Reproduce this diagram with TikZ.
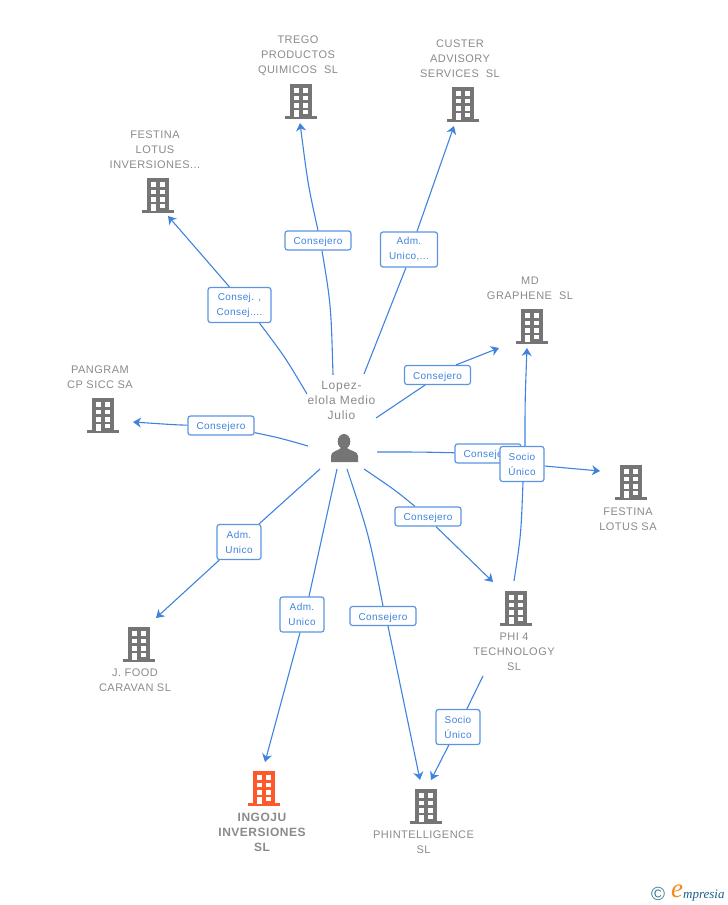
\documentclass[tikz,border=0pt]{standalone}
\usepackage{fontspec}
\setmainfont{Liberation Sans}
\newfontfamily\logofont{Liberation Serif}
\newfontfamily\namefont[LetterSpace=4.3]{Liberation Sans}
\newfontfamily\personfont[LetterSpace=6]{Liberation Sans}
\newfontfamily\tagfont[LetterSpace=4]{Liberation Sans}
\usetikzlibrary{arrows.meta}
\definecolor{linkblue}{HTML}{3F83DE}
\definecolor{tagblue}{HTML}{5B95E2}
\definecolor{icongray}{HTML}{757575}
\definecolor{namegray}{HTML}{8A8A8A}
\definecolor{iconred}{HTML}{FC5A2A}
\definecolor{logoteal}{HTML}{3E7C94}
\definecolor{logoblue}{HTML}{1F5F8B}
\definecolor{logoorange}{HTML}{F08A1D}
\tikzset{
	flow/.style={draw=linkblue, line width=1.1pt},
	flowin/.style={flow, -{Stealth[length=8pt, width=10pt, inset=2.5pt]}},
	tag/.style={draw=tagblue, line width=1.2pt, rounded corners=2.5pt, fill=white, text=linkblue, inner sep=0pt, align=center, minimum width=66pt, minimum height=19pt, font=\tagfont\fontsize{10}{15}\selectfont, execute at begin node={\rule{0pt}{10.5pt}}},
	tagtall/.style={tag, minimum width=44pt, minimum height=35pt},
	firm/.style={text=namegray, align=center, inner sep=0pt, font=\namefont\fontsize{11}{15}\selectfont},
	building/.pic={
		\fill [pic actions] (-10.5,-17) rectangle (12,16);
		\fill [pic actions] (-15.5,15) rectangle (16.5,17.5);
		\fill [white] (-6.5,-13) rectangle (-1.5,-8.5);
		\fill [white] (3,-13) rectangle (8,-8.5);
		\fill [white] (-6.5,-5.5) rectangle (-1.5,-1);
		\fill [white] (3,-5.5) rectangle (8,-1);
		\fill [white] (-6.5,2) rectangle (-1.5,6.5);
		\fill [white] (3,2) rectangle (8,6.5);
		\fill [white] (-6.5,9) rectangle (-1.5,16);
		\fill [white] (3,8.5) rectangle (8,13);
	},
}
\begin{document}
\begin{tikzpicture}[x=1pt, y=-1pt]
	\useasboundingbox (0,0) rectangle (728,905);
	% free ends
	\coordinate (sFestinaInv) at (307,394);
	\coordinate (eFestinaInv) at (168,216);
	\coordinate (sTrego) at (333,375);
	\coordinate (eTrego) at (300,123);
	\coordinate (sCuster) at (364,374);
	\coordinate (eCuster) at (454,126);
	\coordinate (sMd) at (376,418);
	\coordinate (eMd) at (499,348);
	\coordinate (sPangram) at (308,446);
	\coordinate (ePangram) at (133,422);
	\coordinate (sFestinaSa) at (377,452);
	\coordinate (eFestinaSa) at (600,471);
	\coordinate (sPhiMd) at (514,581);
	\coordinate (ePhiMd) at (527,348);
	\coordinate (sFood) at (320,469);
	\coordinate (eFood) at (156,618);
	\coordinate (sIngoju) at (337,469);
	\coordinate (eIngoju) at (265,762);
	\coordinate (sPhint) at (347,469);
	\coordinate (ePhint) at (420,780);
	\coordinate (sPhi) at (364,469);
	\coordinate (ePhi) at (493,582);
	\coordinate (sPhiPhint) at (483,676);
	\coordinate (ePhiPhint) at (431,780);

	% labels on the links
	\node [tag, minimum width=63pt, minimum height=35pt, name=tFestinaInv] at (239.5,305) {Consej. ,\\Consej....};
	\node [tag, name=tTrego] at (318,240.5) {Consejero};
	\node [tag, minimum width=57pt, minimum height=35pt, name=tCuster] at (409,249.5) {Adm.\\Unico,...};
	\node [tag, name=tMd] at (437.5,375) {Consejero};
	\node [tag, name=tPangram] at (221,425.5) {Consejero};
	\node [tag, name=tFestinaSa] at (488,453.5) {Consejero};
	\node [tag, name=tPhi] at (428,516.5) {Consejero};
	\node [tag, name=tPhint] at (383,616) {Consejero};
	\node [tagtall, name=tFood] at (239,542) {Adm.\\Unico};
	\node [tagtall, name=tIngoju] at (302,614.5) {Adm.\\Unico};
	\node [tagtall, name=tPhiMd] at (522,464) {Socio\\Único};
	\node [tagtall, name=tPhiPhint] at (458,727) {Socio\\Único};

	% links
	\draw [flow] (sFestinaInv) .. controls (285,357) .. ([xshift=20pt]tFestinaInv.south);
	\draw [flowin] ([xshift=-10pt]tFestinaInv.north) -- (eFestinaInv);
	\draw [flow] (sTrego) .. controls (331,305) .. ([xshift=4pt]tTrego.south);
	\draw [flowin] (tTrego.north) .. controls (308,185) .. (eTrego);
	\draw [flow] (sCuster) -- ([xshift=-3pt]tCuster.south);
	\draw [flowin] ([xshift=8pt]tCuster.north) -- (eCuster);
	\draw [flow] (sMd) -- ([xshift=-12.5pt]tMd.south);
	\draw [flowin] ([xshift=18.5pt]tMd.north) -- (eMd);
	\draw [flow] (sPangram) .. controls (280,438) .. (tPangram);
	\draw [flowin] (tPangram) .. controls (178,425) .. (ePangram);
	\draw [flow] (sFestinaSa) .. controls (420,452) .. (tFestinaSa);
	\draw [flowin] (tPhiMd) -- (eFestinaSa);
	\draw [flow] (sPhiMd) .. controls (521,535) .. ([xshift=1pt]tPhiMd.south);
	\draw [flowin] ([xshift=3pt]tPhiMd.north) .. controls (525,400) .. (ePhiMd);
	\draw [flow] (sFood) -- (tFood);
	\draw [flowin] (tFood) -- (eFood);
	\draw [flow] (sIngoju) -- ([xshift=7pt]tIngoju.north);
	\draw [flowin] ([xshift=-2pt]tIngoju.south) -- (eIngoju);
	\draw [flow] (sPhint) .. controls (369,535) .. (tPhint.north);
	\draw [flowin] ([xshift=5pt]tPhint.south) -- (ePhint);
	\draw [flow] (sPhi) .. controls (395,490) .. ([xshift=-13pt]tPhi.north);
	\draw [flowin] ([xshift=8pt]tPhi.south) -- (ePhi);
	\draw [flow] (sPhiPhint) -- (tPhiPhint);
	\draw [flowin] (tPhiPhint) -- (ePhiPhint);

	% names
	\node [firm, name=nTrego] at (298,55.5) {TREGO\\PRODUCTOS\\QUIMICOS\ \ SL};
	\node [firm, name=nCuster] at (460,58.5) {CUSTER\\ADVISORY\\SERVICES\ \ SL};
	\node [firm, name=nFestinaInv] at (155,149.5) {FESTINA\\LOTUS\\INVERSIONES...};
	\node [firm, name=nMd] at (530,288) {MD\\GRAPHENE\ \ SL};
	\node [firm, name=nPangram] at (100,377) {PANGRAM\\CP SICC SA};
	\node [firm, font=\personfont\fontsize{12}{15}\selectfont, name=nLopez] at (341.5,400) {Lopez-\\elola Medio\\Julio};
	\node [firm, name=nFestinaSa] at (628,519) {FESTINA\\LOTUS SA};
	\node [firm, name=nPhi] at (514,652) {PHI 4\\TECHNOLOGY\\SL};
	\node [firm, name=nFood] at (135,680.5) {J. FOOD\\CARAVAN SL};
	\node [firm, font=\namefont\fontsize{12}{15}\bfseries\selectfont, name=nIngoju] at (262,832) {INGOJU\\INVERSIONES\\SL};
	\node [firm, name=nPhint] at (423.5,842.5) {PHINTELLIGENCE\\SL};

	% buildings
	\pic [fill=icongray] at (300,101) {building};
	\pic [fill=icongray] at (462,104) {building};
	\pic [fill=icongray] at (157,195) {building};
	\pic [fill=icongray] at (531,326) {building};
	\pic [fill=icongray] at (102,415) {building};
	\pic [fill=icongray] at (630,482) {building};
	\pic [fill=icongray] at (515,608) {building};
	\pic [fill=icongray] at (138,644) {building};
	\pic [fill=iconred] at (263,788) {building};
	\pic [fill=icongray] at (425,806) {building};

	% person
	\fill [icongray] (344,441.5) ellipse (6.3 and 7.5);
	\fill [icongray] (331,462) -- (331,456) .. controls (331,451) and (338,451) .. (341,448) -- (347,448) .. controls (350,451) and (358,451) .. (358,456) -- (358,462) -- cycle;

	% logo
	\node [text=logoteal, font=\fontsize{19}{19}\selectfont, inner sep=0pt, name=logoC] at (658,894) {©};
	\node [text=logoorange, font=\logofont\itshape\fontsize{27}{27}\selectfont, inner sep=0pt, name=logoE] at (677,891) {e};
	\node [text=logoblue, font=\logofont\itshape\fontsize{13}{13}\selectfont, inner sep=0pt, anchor=west, name=logoT] at (683,896) {mpresia};
\end{tikzpicture}
\end{document}
